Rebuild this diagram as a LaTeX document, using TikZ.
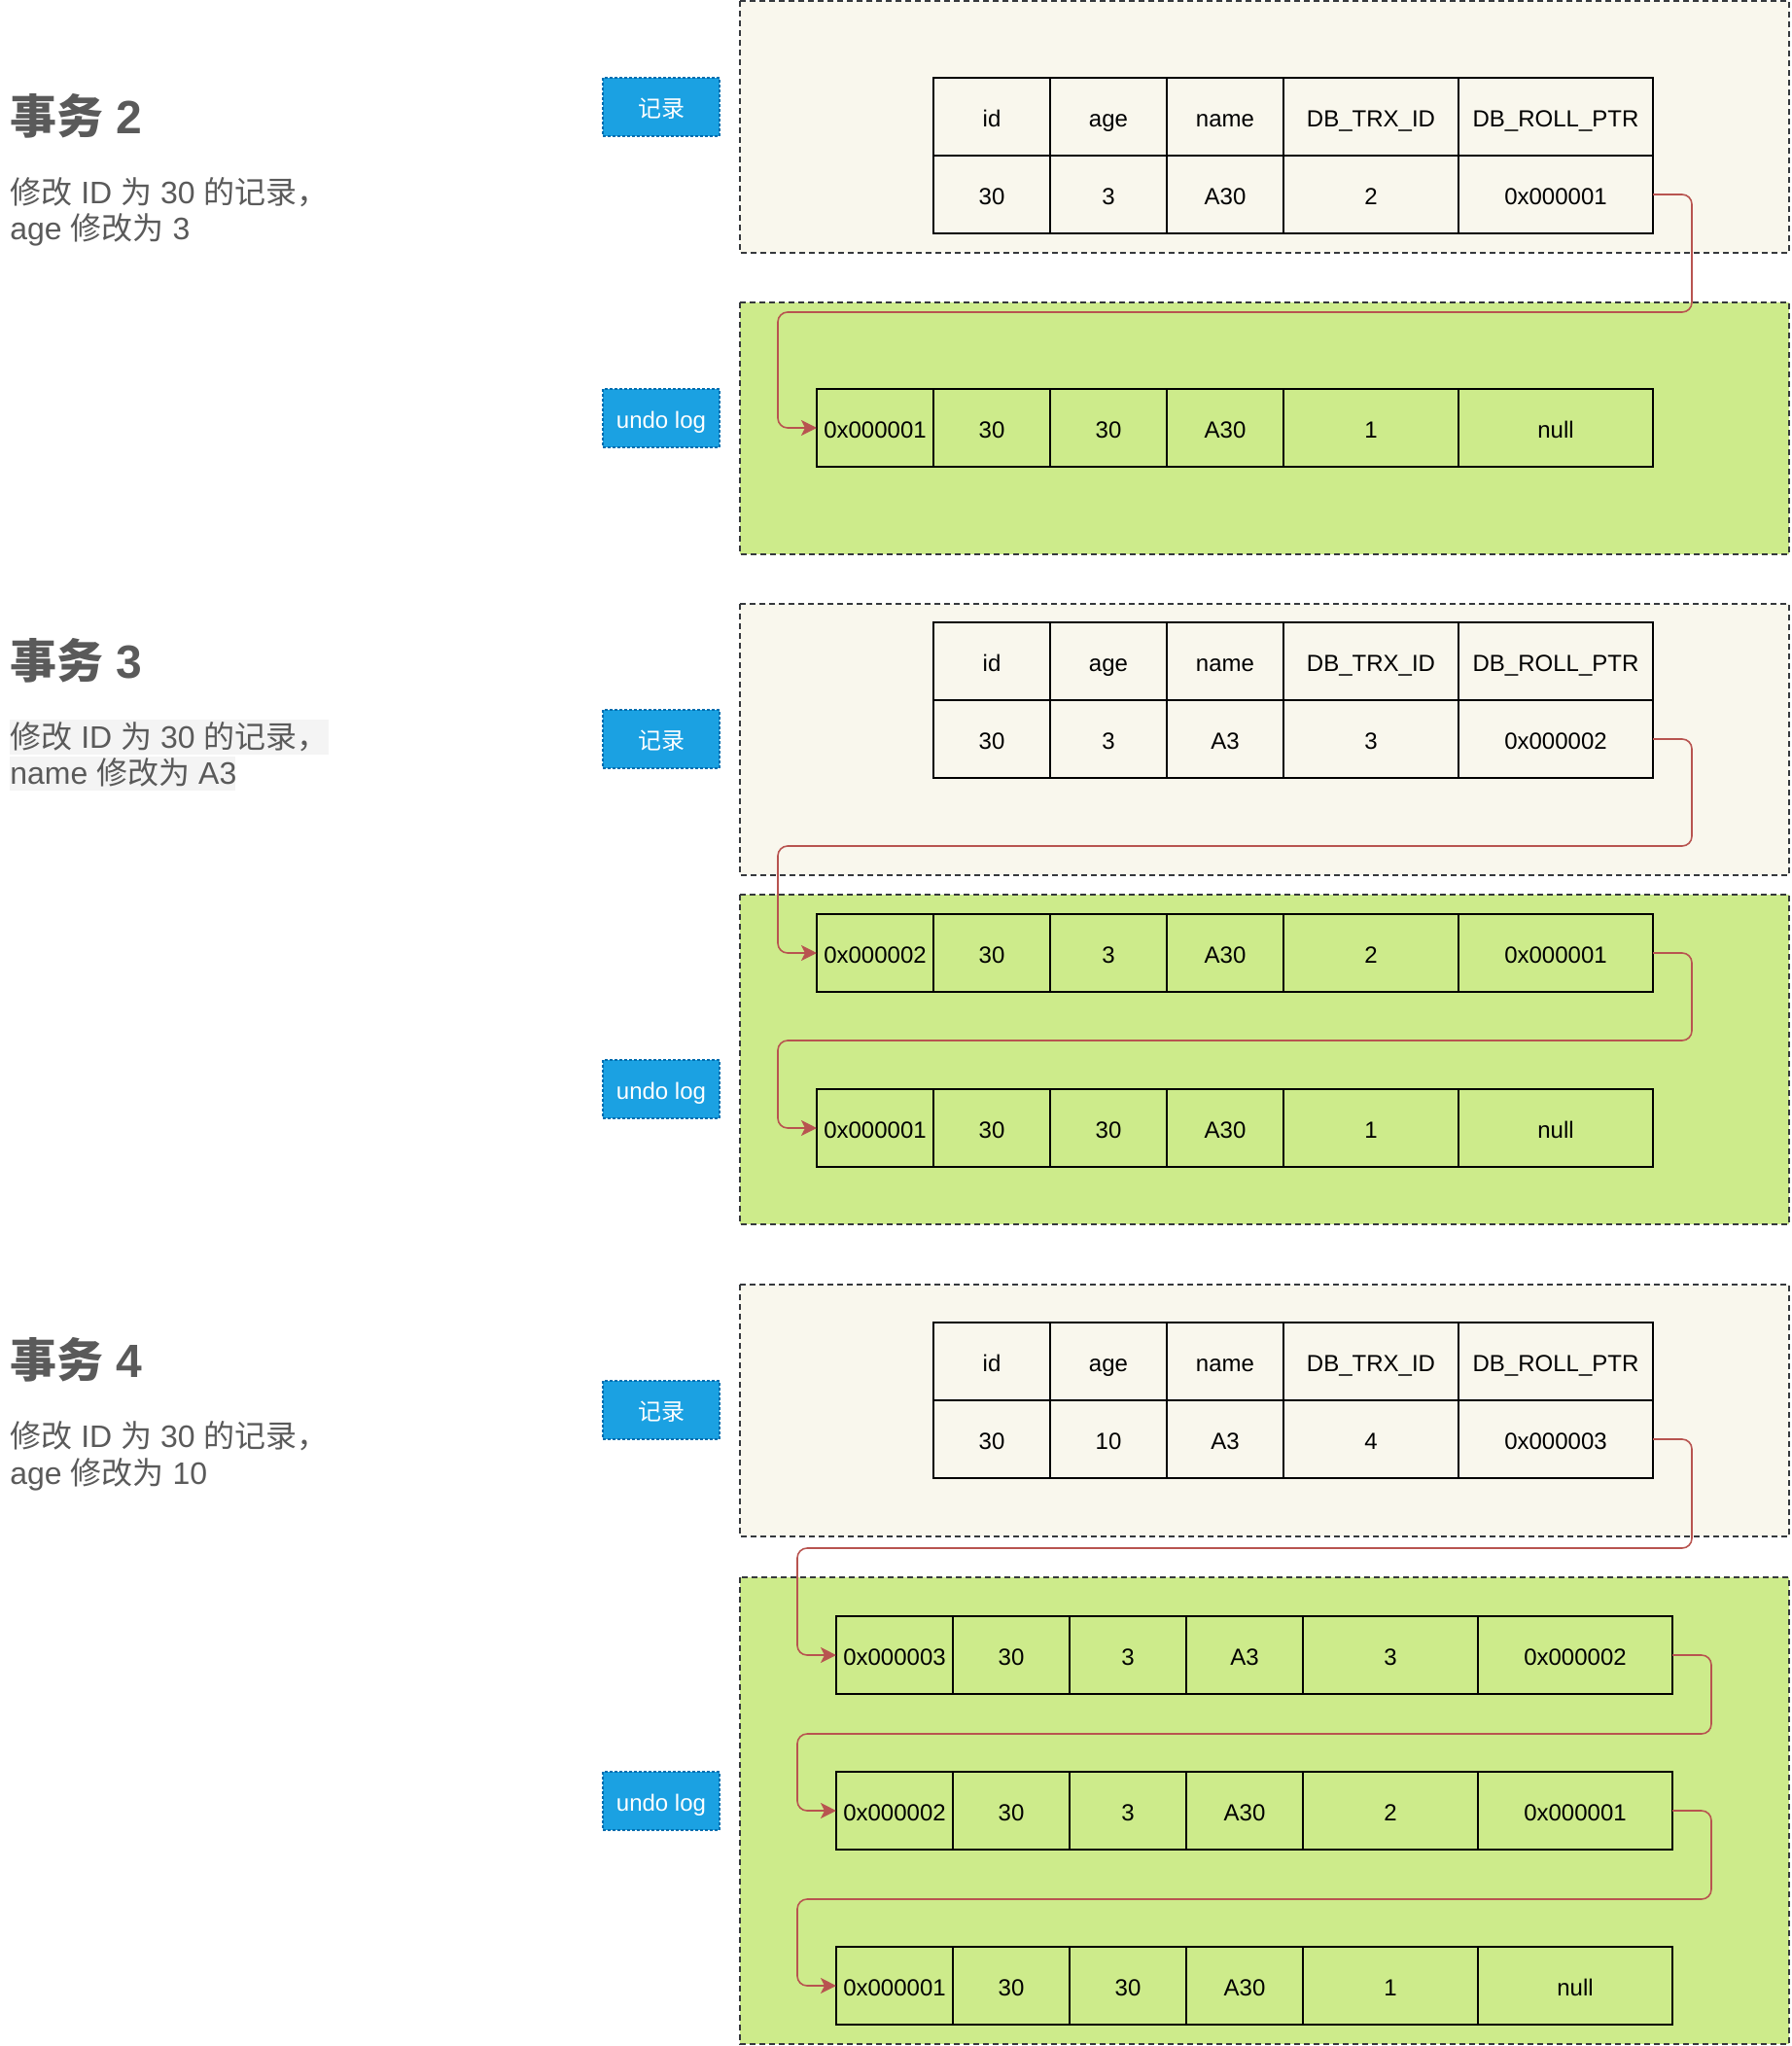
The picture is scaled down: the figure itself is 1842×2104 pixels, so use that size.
\documentclass[tikz,border=0pt]{standalone}
\usepackage{fontspec}
\setmainfont{Liberation Sans}
\newfontfamily\cjk{Noto Sans CJK SC}
\usetikzlibrary{arrows.meta}
\definecolor{recfill}{HTML}{F9F7ED}
\definecolor{undofill}{HTML}{CDEB8B}
\definecolor{boxline}{HTML}{36393D}
\definecolor{lblfill}{HTML}{1BA1E2}
\definecolor{lblline}{HTML}{006EAF}
\definecolor{connc}{HTML}{B85450}
\definecolor{txtgray}{HTML}{5A5A5A}
\definecolor{hlgray}{HTML}{F4F4F4}
\tikzset{
  recbox/.style={draw=boxline, fill=recfill, line width=0.7pt, dash pattern=on 3pt off 2pt},
  undobox/.style={draw=boxline, fill=undofill, line width=0.7pt, dash pattern=on 3pt off 2pt},
  cell/.style={draw=black, line width=0.9pt, inner sep=0pt, outer sep=0pt, minimum height=40pt, anchor=north west, text height=1em, text depth=0pt, font=\fontsize{12pt}{14pt}\selectfont},
  lbl/.style={draw=lblline, fill=lblfill, dash pattern=on 1.5pt off 1pt, line width=0.6pt, text=white, minimum width=60pt, minimum height=30pt, inner sep=0pt, outer sep=0pt, anchor=north west, text height=1em, text depth=0pt, font=\fontsize{12pt}{14pt}\selectfont},
  conn/.style={draw=connc, line width=0.8pt, rounded corners=5pt, -{Stealth[length=8pt,width=8pt,inset=2pt]}},
  ttl/.style={anchor=base west, text=txtgray, inner sep=0pt, font=\fontsize{24pt}{28pt}\selectfont\bfseries},
  bodyt/.style={anchor=base west, text=txtgray, inner sep=0pt, font=\fontsize{16pt}{19pt}\selectfont},
}
\newcommand\rectable[7]{%
  \node[cell, minimum width=60pt] (#1h1) at (960,#2) {id};
  \node[cell, minimum width=60pt] (#1h2) at (1080,#2) {age};
  \node[cell, minimum width=60pt] (#1h3) at (1200,#2) {name};
  \node[cell, minimum width=90pt] (#1h4) at (1320,#2) {DB\_TRX\_ID};
  \node[cell, minimum width=100pt] (#1h5) at (1500,#2) {DB\_ROLL\_PTR};
  \node[cell, minimum width=60pt] (#1d1) at (960,#2+80) {#3};
  \node[cell, minimum width=60pt] (#1d2) at (1080,#2+80) {#4};
  \node[cell, minimum width=60pt] (#1d3) at (1200,#2+80) {#5};
  \node[cell, minimum width=90pt] (#1d4) at (1320,#2+80) {#6};
  \node[cell, minimum width=100pt] (#1d5) at (1500,#2+80) {#7};
}
\newcommand\undorow[9]{%
  \node[cell, minimum width=60pt] (#1c1) at (840+#2,#3) {#4};
  \node[cell, minimum width=60pt] (#1c2) at (960+#2,#3) {#5};
  \node[cell, minimum width=60pt] (#1c3) at (1080+#2,#3) {#6};
  \node[cell, minimum width=60pt] (#1c4) at (1200+#2,#3) {#7};
  \node[cell, minimum width=90pt] (#1c5) at (1320+#2,#3) {#8};
  \node[cell, minimum width=100pt] (#1c6) at (1500+#2,#3) {#9};
}
\begin{document}
\begin{tikzpicture}[x=0.5pt,y=-0.5pt]
\useasboundingbox (0,0) rectangle (1842,2104);
% ---------- section 1 ----------
\draw[recbox] (761,1) rectangle (1840,260);
\draw[undobox] (761,311) rectangle (1840,570);
\node[lbl] (l1) at (620,80) {\cjk 记录};
\node[lbl] (ul1) at (620,400) {undo log};
\rectable{a}{80}{30}{3}{A30}{2}{0x000001}
\undorow{b}{0}{400}{0x000001}{30}{30}{A30}{1}{null}
\draw[conn] (ad5.east) -- ++(40,0) |- (800,321) |- (bc1.west);
% ---------- section 2 ----------
\draw[recbox] (761,621) rectangle (1840,900);
\draw[undobox] (761,920) rectangle (1840,1259);
\node[lbl] (l2) at (620,730) {\cjk 记录};
\node[lbl] (ul2) at (620,1090) {undo log};
\rectable{c}{640}{30}{3}{A3}{3}{0x000002}
\undorow{d}{0}{940}{0x000002}{30}{3}{A30}{2}{0x000001}
\undorow{e}{0}{1120}{0x000001}{30}{30}{A30}{1}{null}
\draw[conn] (cd5.east) -- ++(40,0) |- (800,870) |- (dc1.west);
\draw[conn] (dc6.east) -- ++(40,0) |- (800,1070) |- (ec1.west);
% ---------- section 3 ----------
\draw[recbox] (761,1321) rectangle (1840,1580);
\draw[undobox] (761,1622) rectangle (1840,2102);
\node[lbl] (l3) at (620,1420) {\cjk 记录};
\node[lbl] (ul3) at (620,1822) {undo log};
\rectable{f}{1360}{30}{10}{A3}{4}{0x000003}
\undorow{g}{20}{1662}{0x000003}{30}{3}{A3}{3}{0x000002}
\undorow{h}{20}{1822}{0x000002}{30}{3}{A30}{2}{0x000001}
\undorow{i}{20}{2002}{0x000001}{30}{30}{A30}{1}{null}
\draw[conn] (fd5.east) -- ++(40,0) |- (820,1592) |- (gc1.west);
\draw[conn] (gc6.east) -- ++(40,0) |- (820,1783) |- (hc1.west);
\draw[conn] (hc6.east) -- ++(40,0) |- (820,1953) |- (ic1.west);
% ---------- left texts ----------
\node[ttl] (t2) at (10,137) {{\cjk 事务} 2};
\node[bodyt] (b2a) at (10,209) {{\cjk 修改} ID {\cjk 为} 30 {\cjk 的记录，}};
\node[bodyt] (b2b) at (10,246) {age {\cjk 修改为} 3};
\node[ttl] (t3) at (10,697) {{\cjk 事务} 3};
\fill[hlgray] (10,740) rectangle (338,776);
\fill[hlgray] (10,778) rectangle (242,813);
\node[bodyt] (b3a) at (10,769) {{\cjk 修改} ID {\cjk 为} 30 {\cjk 的记录，}};
\node[bodyt] (b3b) at (10,806) {name {\cjk 修改为} A3};
\node[ttl] (t4) at (10,1416) {{\cjk 事务} 4};
\node[bodyt] (b4a) at (10,1488) {{\cjk 修改} ID {\cjk 为} 30 {\cjk 的记录，}};
\node[bodyt] (b4b) at (10,1526) {age {\cjk 修改为} 10};
\end{tikzpicture}
\end{document}
